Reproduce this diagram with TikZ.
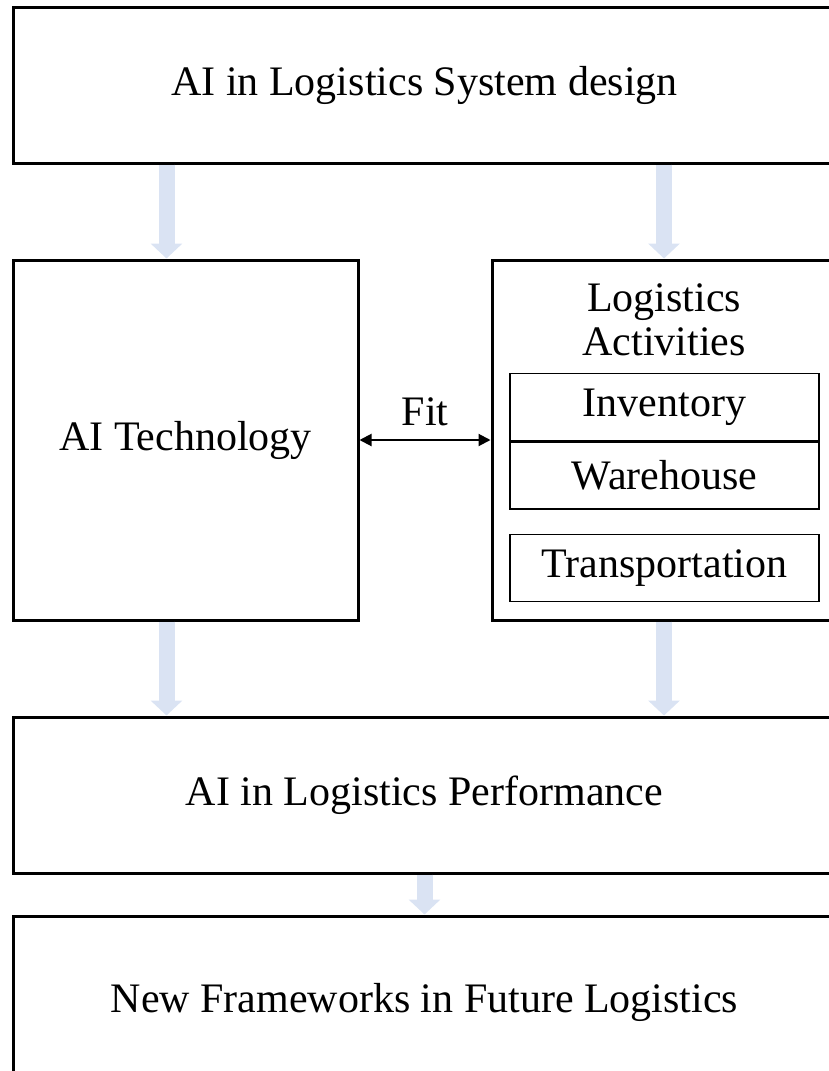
\documentclass[tikz,border=0pt]{standalone}
\usepackage{fontspec}
\setmainfont{Liberation Serif}
\usetikzlibrary{arrows.meta, positioning}
\definecolor{flowblue}{RGB}{218,227,243}

\begin{document}
\begin{tikzpicture}[
  x=0.5pt, y=-0.5pt,
  every node/.style={font=\fontsize{21}{22}\selectfont},
  bigbox/.style={rectangle, draw, line width=1.5pt, inner sep=0pt, align=center},
  subbox/.style={rectangle, draw, line width=0.7pt, inner sep=0pt,
    minimum width=154.5pt, minimum height=33.5pt},
  flow/.style={draw=flowblue, line width=8pt,
    -{Triangle[width=15.5pt,length=7.5pt,fill=flowblue]}},
  fitarrow/.style={line width=1pt, {Triangle[width=6pt,length=6pt]}-{Triangle[width=6pt,length=6pt]}}
]
\useasboundingbox (0,0) rectangle (829,1071);
\clip (0,0) rectangle (829,1071);

% Boxes
\node[bigbox, minimum width=411.5pt, minimum height=78pt] (sys) at (424.5,85)
  {\raisebox{-2pt}{AI in Logistics System design}};
\node[bigbox, minimum width=172.5pt, minimum height=180pt] (tech) at (185.5,440)
  {\raisebox{-3pt}{AI Technology}};
\node[bigbox, minimum width=172pt, minimum height=180pt] (act) at (664,440) {};
\node[align=center, below=9pt of act.north] (acttitle) {Logistics\\Activities};
\node[subbox] (inv) at (664.5,407) {Inventory};
\node[subbox, below=0pt of inv] (ware) {Warehouse};
\node[subbox, below=12pt of ware] (trans) {Transportation};
\node[bigbox, minimum width=411.5pt, minimum height=78pt] (perf) at (424.5,795)
  {AI in Logistics Performance};
\node[bigbox, minimum width=411.5pt, minimum height=86pt] (future) at (424.5,1002)
  {New Frameworks in Future Logistics};

% Arrows
\draw[flow] ([xshift=-9.5pt]tech.north |- sys.south) -- ([xshift=-9.5pt]tech.north);
\draw[flow] (act.north |- sys.south) -- (act.north);
\draw[flow] ([xshift=-9.5pt]tech.south) -- ([xshift=-9.5pt]tech.south |- perf.north);
\draw[flow] (act.south) -- (act.south |- perf.north);
\draw[flow] (perf.south) -- (future.north);
\draw[fitarrow] (tech.east) -- node[above=3pt] (fit) {Fit} (act.west);

\end{tikzpicture}
\end{document}
